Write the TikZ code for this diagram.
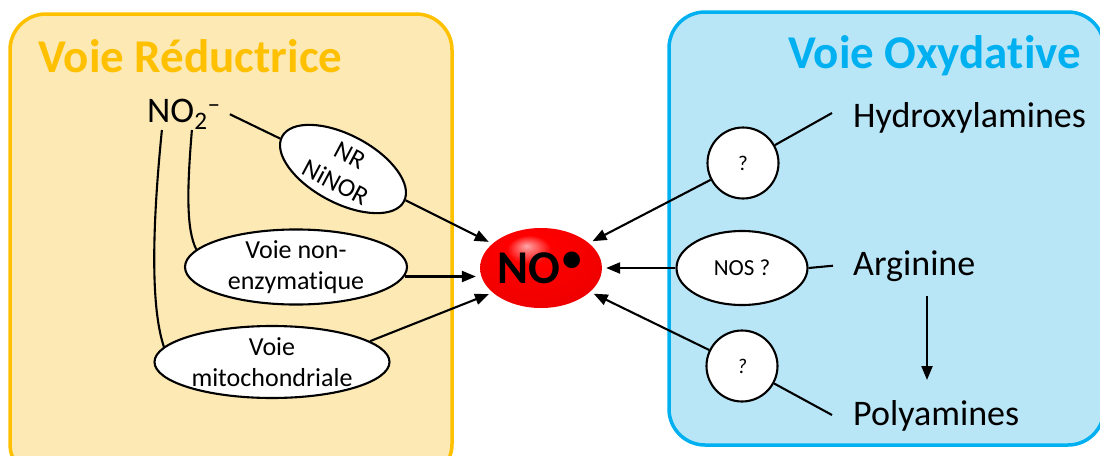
\documentclass[tikz,border=0pt]{standalone}
\usepackage{fontspec}
\setmainfont{Carlito}[Ligatures=NoCommon]
\usetikzlibrary{arrows.meta,positioning,calc,shapes.geometric}
\definecolor{redgold}{HTML}{FFC000}
\definecolor{redfill}{HTML}{FDE9B4}
\definecolor{oxblue}{HTML}{00B0F0}
\definecolor{oxfill}{HTML}{B9E6F7}
\pgfdeclareradialshading{noball}{\pgfpoint{-6bp}{14bp}}{%
  color(0bp)=(red!35!white); color(9bp)=(red); color(36bp)=(red!92!black);
  color(50bp)=(red!55!black)}

\begin{document}
\begin{tikzpicture}[
  x=1pt, y=-1pt,
  panel/.style={line width=3.5pt, rounded corners=36pt},
  enzyme/.style={ellipse, draw, line width=2.1pt, fill=white, inner sep=0pt, align=center,
                 font=\fontsize{26}{31}\selectfont},
  unknown/.style={circle, draw, line width=2.1pt, fill=white, minimum size=71pt, inner sep=0pt,
                  font=\fontsize{21}{21}\selectfont},
  species/.style={font=\fontsize{36}{36}\selectfont, anchor=base west, inner sep=0pt},
  title/.style={font=\bfseries\fontsize{47}{47}\selectfont, anchor=base west, inner sep=0pt},
  link/.style={line width=2.1pt},
  flow/.style={-{Triangle[length=14pt,width=11pt]}, line width=2.1pt, shorten >=4pt},
]
  \useasboundingbox (0,0) rectangle (1100,455);

  % the two pathways
  \draw[panel, draw=redgold, fill=redfill] (10,14) rectangle (452,480);
  \draw[panel, draw=oxblue, fill=oxfill] (669,12) rectangle (1104,445);
  \node[title, text=redgold] (redtitle) at (38,72) {Voie Réductrice};
  \node[title, text=oxblue] (oxtitle) at (788,68) {Voie Oxydative};

  % NO in the middle
  \node[ellipse, shading=noball, minimum width=107pt, minimum height=80pt, inner sep=0pt,
        font=\bfseries\fontsize{47}{47}\selectfont] (no) at (541,268)
        {NO\raisebox{.22em}{\mdseries\textbullet}};

  % reductive side
  \node[species] (no2) at (147,122) {NO\textsubscript{2}\textsuperscript{–}};
  \node[enzyme, rotate=-28, minimum width=138pt, minimum height=68pt] (nr) at (343,169) {NR\\NiNOR};
  \node[enzyme, minimum width=222pt, minimum height=73pt] (nonenz) at (296,267) {Voie non-\\enzymatique};
  \node[enzyme, minimum width=235pt, minimum height=72pt] (mito) at (272,362) {Voie\\mitochondriale};

  \draw[link] ([xshift=9pt]no2.east) -- (nr);
  \draw[link] ([xshift=-22pt]no2.south) .. controls +(-8,80) and +(-15,-45) .. (mito.172);
  \draw[link] ([xshift=8pt]no2.south) .. controls +(-5,60) and +(-10,-20) .. (nonenz.170);
  \draw[flow] (nr) -- (no);
  \draw[flow] (nonenz.-5) -- (nonenz.-5 -| no.west);
  \draw[flow] (mito.12) -- (no.207);

  % oxidative side
  \node[species] (hydro) at (853,127) {Hydroxylamines};
  \node[species] (arg) at (853,275) {Arginine};
  \node[species] (poly) at (853,425) {Polyamines};
  \node[unknown] (q1) at (743,163) {?};
  \node[enzyme, minimum width=131pt, minimum height=74pt, font=\fontsize{23}{23}\selectfont] (nos) at (742,268) {NOS ?};
  \node[unknown, font=\itshape\fontsize{21}{21}\selectfont] (q2) at (742,366) {?};

  \draw[link] ([shift={(-21,-14)}]hydro.base west) -- (q1);
  \draw[link] (nos.east) -- ([xshift=-20pt]arg.west);
  \draw[link] ([shift={(-21,-10)}]poly.base west) -- (q2);
  \draw[flow] (q1) -- (no);
  \draw[flow] (nos.west) -- (no.east);
  \draw[flow] (q2) -- (no);
  \draw[flow, shorten >=0pt] ([shift={(74,21)}]arg.base west) -- ([shift={(74,-45)}]poly.base west);
\end{tikzpicture}
\end{document}
